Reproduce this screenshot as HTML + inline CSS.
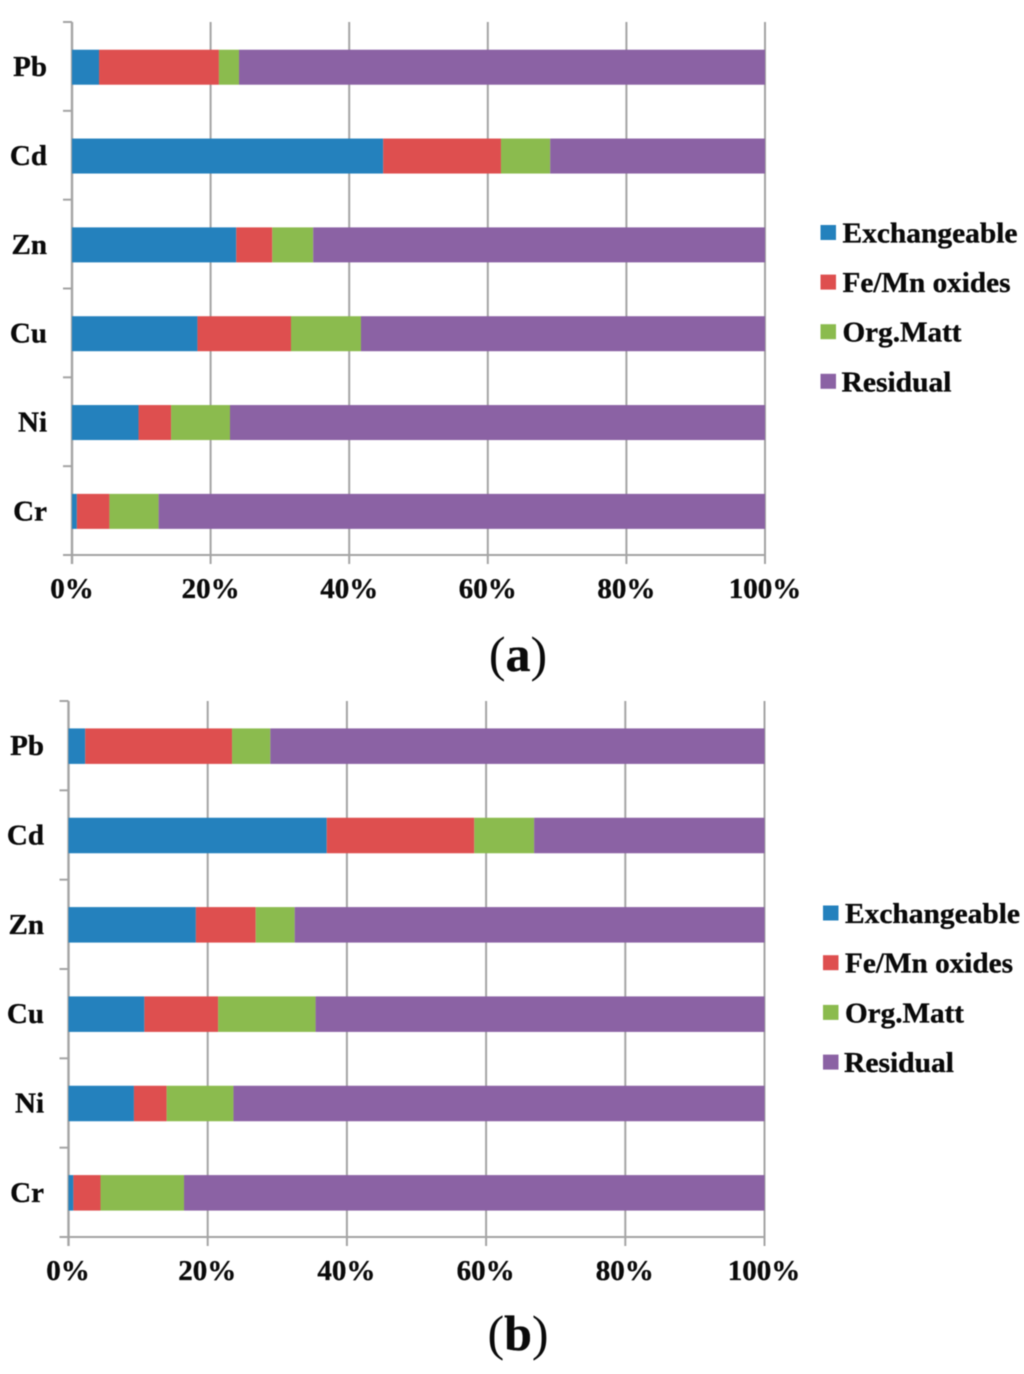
<!DOCTYPE html>
<html lang="en">
<head>
<meta charset="utf-8">
<title>Metal fractions stacked bar charts</title>
<style>
  html, body { margin: 0; padding: 0; background: #ffffff; }
  body { width: 1024px; height: 1374px; overflow: hidden; }
  svg { display: block; filter: blur(0.45px); }
  text { font-family: "Liberation Serif", serif; font-weight: 700; fill: #0a0a0a; stroke: #0a0a0a; stroke-width: 0.35px; }
  .thin { font-weight: 400; }
</style>
</head>
<body>
<svg id="figure" xmlns="http://www.w3.org/2000/svg" width="1024" height="1374" viewBox="0 0 1024 1374">
  <g id="chart-a"></g>
  <text x="518" y="671" text-anchor="middle" font-size="50"><tspan class="thin" stroke-width="0">(</tspan>a<tspan class="thin" stroke-width="0">)</tspan></text>
  <g id="chart-b"></g>
  <text x="518" y="1350" text-anchor="middle" font-size="50"><tspan class="thin" stroke-width="0">(</tspan>b<tspan class="thin" stroke-width="0">)</tspan></text>
</svg>
<script>
const categories = ['Pb', 'Cd', 'Zn', 'Cu', 'Ni', 'Cr'];
const seriesNames = ['Exchangeable', 'Fe/Mn oxides', 'Org.Matt', 'Residual'];
const tickLabels = ['0%', '20%', '40%', '60%', '80%', '100%'];
const tickValues = [0, 20, 40, 60, 80, 100];

const exchangeableA = [3.9, 44.9, 23.7, 18.1, 9.6, 0.7];
const feMnOxidesA = [17.3, 17.0, 5.2, 13.5, 4.7, 4.7];
const orgMattA = [2.9, 7.1, 5.9, 10.1, 8.5, 7.1];
const residualA = [75.9, 31.0, 65.2, 58.3, 77.2, 87.5];

const exchangeableB = [2.4, 37.1, 18.3, 10.9, 9.4, 0.7];
const feMnOxidesB = [21.1, 21.2, 8.6, 10.6, 4.7, 3.9];
const orgMattB = [5.5, 8.6, 5.6, 14.0, 9.6, 12.0];
const residualB = [71.0, 33.1, 67.5, 64.5, 76.3, 83.4];

const seriesColors = ['#2481bd', '#de4f4f', '#8bbb4e', '#8b62a4'];
const SVG_NS = 'http://www.w3.org/2000/svg';

function make(parent, tag, attrs, text) {
  const el = document.createElementNS(SVG_NS, tag);
  for (const key in attrs) el.setAttribute(key, attrs[key]);
  if (text !== undefined) el.textContent = text;
  parent.appendChild(el);
  return el;
}

function drawChart(parent, layout, seriesList) {
  const xScale = v => layout.left + (v / 100) * (layout.right - layout.left);
  const band = (layout.bottom - layout.top) / categories.length;
  const yCenter = i => layout.top + band * (i + 0.5) + layout.barShift;
  const axisColor = '#a4a4a4';

  tickValues.forEach((value, i) => {
    const line = make(parent, 'line', { x1: xScale(value), x2: xScale(value), y1: layout.top, y2: layout.bottom + 9, stroke: axisColor, 'stroke-width': i === 0 ? 2.4 : 2 });
    
    
    const label = make(parent, 'text', { x: xScale(value) - layout.xLabelOffset, y: layout.xLabelY, 'text-anchor': 'middle', 'font-size': 29 }, tickLabels[i]);
    
    
  });

  for (let i = 0; i <= categories.length; i++) {
    const y = layout.top + band * i;
    const tick = make(parent, 'line', { x1: layout.left - 9, x2: layout.left, y1: y, y2: y, stroke: axisColor, 'stroke-width': 2 });
    
    
  }

  const xAxis = make(parent, 'line', { x1: layout.left - 9, x2: layout.right, y1: layout.bottom, y2: layout.bottom, stroke: axisColor, 'stroke-width': 2 });
  
  

  categories.forEach((category, i) => {
    let cumulative = 0;
    seriesList.forEach((values, s) => {
      const start = cumulative;
      cumulative += values[i];
      const bar = make(parent, 'rect', { x: xScale(start), y: yCenter(i) - layout.barHeight / 2, width: xScale(cumulative) - xScale(start), height: layout.barHeight, fill: seriesColors[s] });
      
      
    });
    const catLabel = make(parent, 'text', { x: layout.catLabelX, y: yCenter(i) + 9, 'text-anchor': 'end', 'font-size': 29 }, category);
    
    
  });

  seriesNames.forEach((name, s) => {
    const y = layout.legendY + layout.legendStep * s;
    const swatch = make(parent, 'rect', { x: layout.legendX, y: y - 8, width: 15.5, height: 15, fill: seriesColors[s] });
    
    
    const entry = make(parent, 'text', { x: layout.legendX + (s === 3 ? 21 : 22), y: y + 9.5, 'font-size': 28, textLength: name === 'Exchangeable' ? 175 : name === 'Fe/Mn oxides' ? 168 : name === 'Org.Matt' ? 119 : 110, lengthAdjust: 'spacingAndGlyphs' }, name);
    
    
  });
}

drawChart(document.getElementById('chart-a'),
  { left: 72, right: 765, top: 22, bottom: 555, barHeight: 35, barShift: 0.8, xLabelY: 598, xLabelOffset: 0, catLabelX: 47, legendX: 820.5, legendY: 233, legendStep: 49.6 },
  [exchangeableA, feMnOxidesA, orgMattA, residualA]);

drawChart(document.getElementById('chart-b'),
  { left: 68.5, right: 764.5, top: 701, bottom: 1237, barHeight: 35.5, barShift: 0.5, xLabelY: 1280, xLabelOffset: 0.5, catLabelX: 44, legendX: 823, legendY: 913.5, legendStep: 49.7 },
  [exchangeableB, feMnOxidesB, orgMattB, residualB]);
</script>
</body>
</html>
